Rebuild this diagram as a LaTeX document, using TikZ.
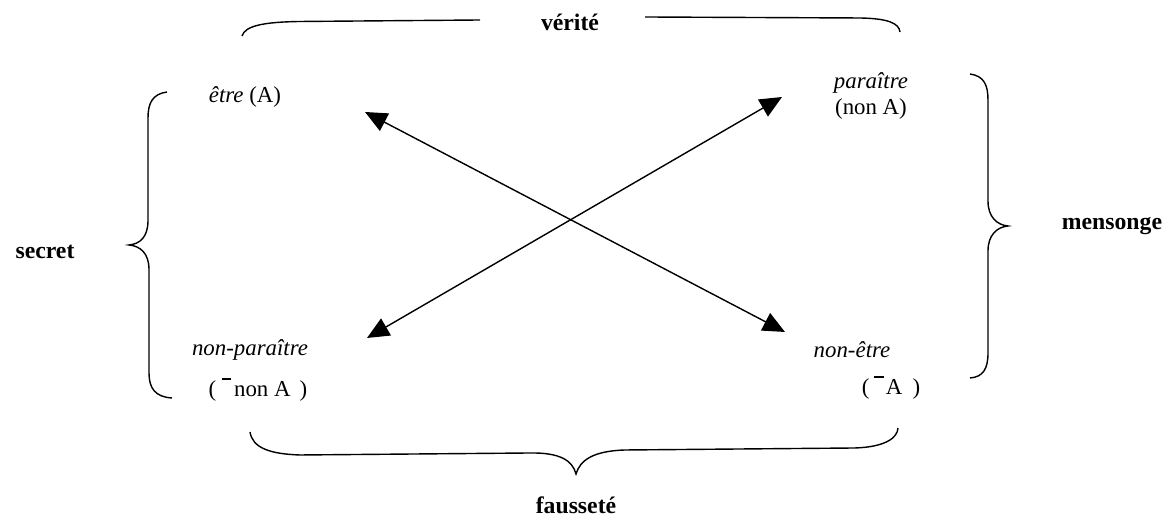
\documentclass[tikz,border=0pt]{standalone}
\usepackage{fontspec}
\setmainfont{Liberation Serif}
\usetikzlibrary{arrows.meta}
\newcommand{\barre}{\raisebox{0.74em}{\rule{0.4em}{0.08em}}}
\begin{document}
\begin{tikzpicture}[scale=1, >={Triangle[length=4.4mm, width=3.9mm]},
  every node/.style={font=\fontsize{13}{16}\selectfont, inner sep=0pt},
  titre/.style={font=\fontsize{13.5}{16}\selectfont\bfseries},
  accolade/.style={line width=0.8pt},
  fleche/.style={<->, line width=0.8pt}]
  \useasboundingbox (0,0) rectangle (23.28,10.46);
  % les quatre termes
  \node (etre) at (4.90,8.52) {\textit{être} (A)};
  \node[align=center] (paraitre) at (17.42,8.54) {\textit{paraître}\\[-1pt](non A)};
  \node (nonparaitre) at (5.00,3.46) {\textit{non-paraître}};
  \node (nonparaitrebis) at (5.16,2.66) {(\hspace{0.26em}\barre\hspace{0.12em}non A\hspace{0.4em})};
  \node (nonetre) at (17.04,3.46) {\textit{non-être}};
  \node (nonetrebis) at (17.82,2.70) {(\hspace{0.22em}\barre\hspace{0.1em}A\hspace{0.45em})};
  % les diagonales
  \coordinate (hautG) at (7.30,8.22);
  \coordinate (basD) at (15.70,3.82);
  \coordinate (basG) at (7.34,3.70);
  \coordinate (hautD) at (15.64,8.52);
  \draw[fleche] (hautG) -- (basD);
  \draw[fleche] (basG) -- (hautD);
  % accolade du haut
  \node[titre] (verite) at (11.40,10.02) {vérité};
  \draw[accolade] (4.84,9.74) .. controls (4.90,9.95) and (5.30,10.02) .. (6.00,10.03) -- (9.60,10.06);
  \draw[accolade] (12.90,10.12) -- (17.20,10.10) .. controls (17.75,10.09) and (17.98,10.00) .. (18.00,9.82);
  % accolade de gauche
  \node[titre] (secret) at (0.90,5.42) {secret};
  \draw[accolade] (3.34,8.62) .. controls (3.05,8.58) and (2.96,8.40) .. (2.96,8.10) -- (2.96,6.05)
    .. controls (2.96,5.72) and (2.80,5.58) .. (2.58,5.56)
    .. controls (2.80,5.54) and (2.98,5.40) .. (2.98,5.07) -- (2.98,3.00)
    .. controls (2.98,2.70) and (3.10,2.52) .. (3.44,2.50);
  % accolade de droite
  \node[titre] (mensonge) at (22.24,5.94) {mensonge};
  \draw[accolade] (19.40,8.98) .. controls (19.68,8.94) and (19.76,8.76) .. (19.76,8.46) -- (19.76,6.44)
    .. controls (19.76,6.12) and (19.94,5.96) .. (20.16,5.94)
    .. controls (19.94,5.92) and (19.76,5.76) .. (19.76,5.44) -- (19.76,3.40)
    .. controls (19.76,3.08) and (19.66,2.92) .. (19.40,2.90);
  % accolade du bas
  \node[titre] (faussete) at (11.52,0.36) {fausseté};
  \draw[accolade] (5.00,1.82) .. controls (5.05,1.50) and (5.40,1.38) .. (6.00,1.36) -- (10.60,1.40)
    .. controls (11.20,1.41) and (11.45,1.25) .. (11.52,0.98)
    .. controls (11.60,1.25) and (11.85,1.44) .. (12.50,1.46) -- (17.10,1.50)
    .. controls (17.70,1.52) and (17.95,1.70) .. (17.96,1.90);
\end{tikzpicture}
\end{document}
